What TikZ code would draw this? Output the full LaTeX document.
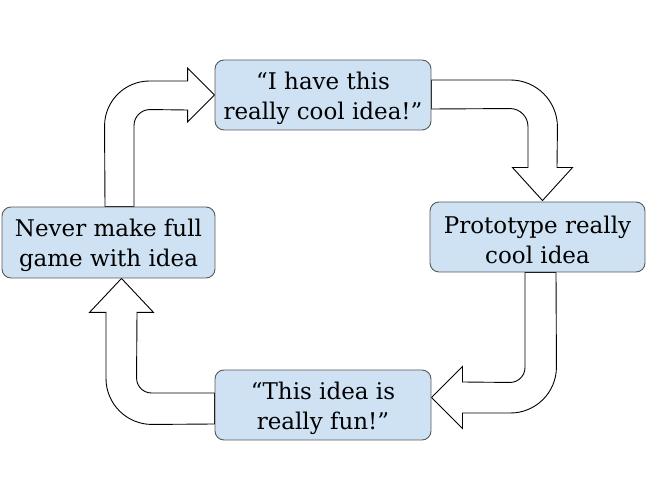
\documentclass[tikz,border=0pt]{standalone}
\usepackage{fontspec}
\setmainfont{DejaVu Serif}
\usetikzlibrary{calc,backgrounds}
\definecolor{boxfill}{HTML}{CFE2F3}
\definecolor{boxline}{HTML}{595959}
\newcommand\mystrut{\rule{0pt}{24pt}}
\tikzset{
  stagebox/.style={draw=boxline, line width=0.9pt, fill=boxfill, rounded corners=9pt,
    minimum width=216pt, minimum height=70pt, inner sep=0pt, align=center,
    font=\fontsize{23}{30}\selectfont, text=black},
  fatarrow/.style={draw=black, line width=0.9pt, fill=white, line join=miter}
}
\begin{document}
\begin{tikzpicture}[x=1pt,y=1pt]
\useasboundingbox (0,0) rectangle (646,485);
\node[stagebox] (top) at (323,390) {\mystrut“I have this\\really cool idea!”};
\node[stagebox, minimum width=215pt] (rb) at (537.5,248) {\mystrut Prototype really\\cool idea};
\node[stagebox] (bot) at (323,80) {\mystrut“This idea is\\really fun!”};
\node[stagebox, minimum width=213pt, minimum height=71pt] (lb) at (108.5,242.5) {\mystrut Never make full\\game with idea};
\begin{scope}[on background layer]
% top -> right
\draw[fatarrow] ($(top.east)+(0,15)$) -- ++(79,0) arc[start angle=90,end angle=0,radius=47]
  -- ($(rb.north)+(19.5,34)$) -- ++(15.5,0) -- ($(rb.north)+(5,1)$)
  -- ($(rb.north)+(-25,34)$) -- ++(15.5,0) -- ++(0,41)
  arc[start angle=0,end angle=90,radius=18] -- ($(top.east)+(0,-14)$) -- cycle;
% right -> bottom
\draw[fatarrow] ($(rb.south)+(-12.5,0)$) -- ++(0,-95) arc[start angle=0,end angle=-90,radius=15]
  -- ($(bot.east)+(31,23)$) -- ++(0,15.5) -- ($(bot.east)+(0,7.5)$)
  -- ($(bot.east)+(31,-23.5)$) -- ++(0,15.5) -- ++(48,0)
  arc[start angle=-90,end angle=0,radius=46] -- ($(rb.south)+(18.5,0)$) -- cycle;
% bottom -> left
\draw[fatarrow] ($(bot.west)+(0,12)$) -- ++(-63,0) arc[start angle=270,end angle=180,radius=15]
  -- ($(lb.south)+(28.5,-34)$) -- ++(16.5,0) -- ($(lb.south)+(13,0)$)
  -- ($(lb.south)+(-19,-34)$) -- ++(16.5,0) -- ++(0,-66)
  arc[start angle=180,end angle=270,radius=46] -- ($(bot.west)+(0,-19)$) -- cycle;
% left -> top
\draw[fatarrow] ($(lb.north)+(25.5,0)$) -- ++(0,81) arc[start angle=180,end angle=90,radius=16]
  -- ($(top.west)+(-27,-15)$) -- ++(0,-12) -- (top.west)
  -- ($(top.west)+(-27,27)$) -- ++(0,-13) -- ++(-38,0)
  arc[start angle=90,end angle=180,radius=45] -- ($(lb.north)+(-3.5,0)$) -- cycle;
\end{scope}
\end{tikzpicture}
\end{document}
